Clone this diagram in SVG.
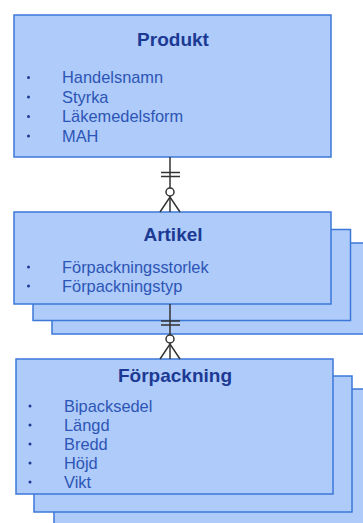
<svg xmlns="http://www.w3.org/2000/svg" width="363" height="523" viewBox="0 0 363 523">
<style>
.box{fill:#aecbfa;stroke:#3c78d8;stroke-width:1.5}
.title{font-family:"Liberation Sans",Arial,sans-serif;font-weight:bold;font-size:19px;fill:#1c3a94;text-anchor:middle}
.item{font-family:"Liberation Sans",Arial,sans-serif;font-size:16.4px;fill:#2d55b5}
.dot{fill:#1c3a94}
.con{stroke:#333;stroke-width:1.5;fill:none}
.circ{stroke:#333;stroke-width:1.5;fill:#fff}
</style>
<rect x="0" y="0" width="363" height="523" fill="#fff"/>
<g id="produkt">
<rect class="box" x="14" y="15" width="317" height="142"/>
<text class="title" x="173" y="46">Produkt</text>
<circle class="dot" cx="28.5" cy="77.5" r="1.5"/>
<circle class="dot" cx="28.5" cy="97" r="1.5"/>
<circle class="dot" cx="28.5" cy="116.5" r="1.5"/>
<circle class="dot" cx="28.5" cy="136" r="1.5"/>
<text class="item" x="62" y="83">Handelsnamn</text>
<text class="item" x="62" y="102.5">Styrka</text>
<text class="item" x="62" y="122">Läkemedelsform</text>
<text class="item" x="62" y="141.5">MAH</text>
</g>
<g id="artikel">
<rect class="box" x="52" y="243" width="320" height="91"/>
<rect class="box" x="33" y="229.5" width="317.5" height="91"/>
<rect class="box" x="14" y="212" width="317" height="92"/>
<text class="title" x="173" y="241">Artikel</text>
<circle class="dot" cx="28.5" cy="267" r="1.5"/>
<circle class="dot" cx="28.5" cy="286" r="1.5"/>
<text class="item" x="62" y="272.5">Förpackningsstorlek</text>
<text class="item" x="62" y="291.5">Förpackningstyp</text>
</g>
<g id="forpackning">
<rect class="box" x="54" y="389" width="320" height="140"/>
<rect class="box" x="34" y="376" width="318" height="136"/>
<rect class="box" x="16" y="359" width="317" height="135"/>
<text class="title" x="175" y="382">Förpackning</text>
<circle class="dot" cx="30" cy="406" r="1.5"/>
<circle class="dot" cx="30" cy="425" r="1.5"/>
<circle class="dot" cx="30" cy="444" r="1.5"/>
<circle class="dot" cx="30" cy="463" r="1.5"/>
<circle class="dot" cx="30" cy="482" r="1.5"/>
<text class="item" x="64" y="411.5">Bipacksedel</text>
<text class="item" x="64" y="430.5">Längd</text>
<text class="item" x="64" y="449.5">Bredd</text>
<text class="item" x="64" y="468.5">Höjd</text>
<text class="item" x="64" y="487.5">Vikt</text>
</g>
<g id="connectors">
<line class="con" x1="170" y1="157" x2="170" y2="212"/>
<line class="con" x1="161" y1="172.5" x2="180" y2="172.5"/>
<line class="con" x1="161" y1="176.5" x2="180" y2="176.5"/>
<path class="con" d="M160 212 L170 197 L180 212"/>
<circle class="circ" cx="170" cy="192" r="4"/>
<line class="con" x1="170" y1="304" x2="170" y2="359"/>
<line class="con" x1="161" y1="321" x2="180" y2="321"/>
<line class="con" x1="161" y1="325" x2="180" y2="325"/>
<path class="con" d="M160 359 L170 344 L180 359"/>
<circle class="circ" cx="170" cy="339" r="4"/>
</g>
</svg>
